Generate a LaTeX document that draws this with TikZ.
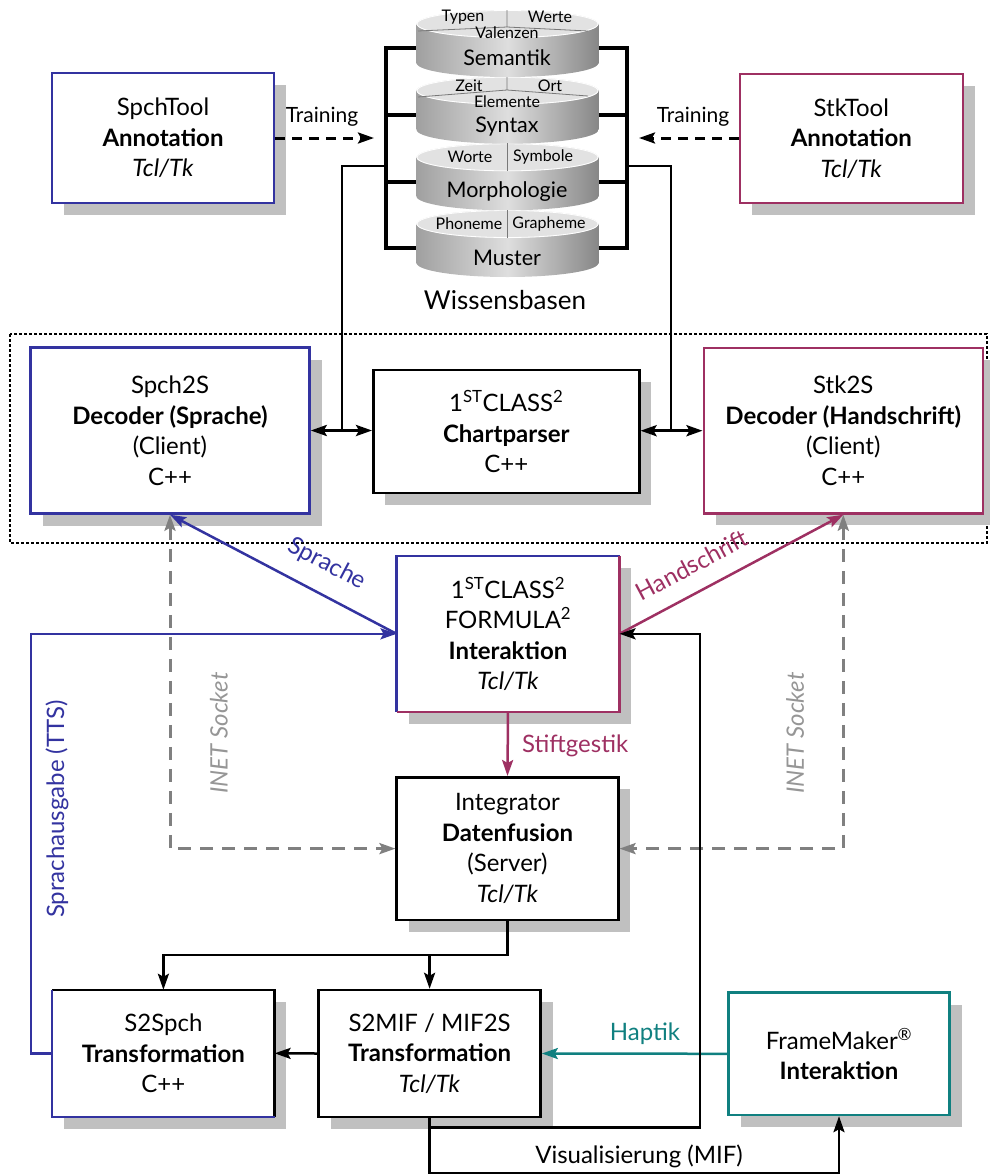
\documentclass[tikz,border=0pt]{standalone}
\usepackage{fontspec}
\setmainfont{Lato}
\usetikzlibrary{arrows.meta,shadows}
\definecolor{spchblue}{RGB}{51,51,160}
\definecolor{stkred}{RGB}{158,48,98}
\definecolor{fmteal}{RGB}{16,128,128}
\definecolor{shadowgray}{RGB}{192,192,192}
\definecolor{inetgray}{RGB}{128,128,128}
\definecolor{inettext}{RGB}{150,150,150}
\definecolor{facegray}{RGB}{226,226,226}
\definecolor{sidedark}{RGB}{160,160,160}
\definecolor{sidelight}{RGB}{222,222,222}
\definecolor{sidedarkr}{RGB}{135,135,135}
\definecolor{divgray}{RGB}{120,120,120}

% one disk of the knowledge-base stack; #1 = y of the top face centre
\newcommand{\kbdisk}[1]{%
  \shade[left color=sidedark, right color=sidedarkr, middle color=sidelight]
    (416.5,#1) rectangle (598.5,#1+39);
  \shade[left color=sidedark, right color=sidedarkr, middle color=sidelight]
    (507.5,#1+39) ellipse[x radius=91, y radius=14];
  \fill[facegray] (507.5,#1) ellipse[x radius=91, y radius=14];
  \draw[white, line width=0.8pt] (507.5,#1) ellipse[x radius=90.5, y radius=13.5];
}

\begin{document}
\begin{tikzpicture}[x=1pt,y=-1pt,
  >={Stealth[length=16pt,width=11pt,inset=3pt]},
  box/.style={draw, line width=2.5pt, fill=white, inner sep=0pt, align=center,
    font=\fontsize{24}{30.5}\selectfont,
    drop shadow={shadow xshift=12pt, shadow yshift=-12pt, opacity=1,
                 fill=shadowgray, draw=none}},
  plainbox/.style={fill=white, inner sep=0pt, align=center,
    font=\fontsize{24}{30.5}\selectfont,
    drop shadow={shadow xshift=12pt, shadow yshift=-12pt, opacity=1,
                 fill=shadowgray, draw=none}},
  wire/.style={line width=2.5pt},
  bar/.style={line width=3.5pt},
  lbl/.style={font=\fontsize{24}{28}\selectfont, inner sep=0pt},
  facelbl/.style={font=\fontsize{16}{19}\selectfont, inner sep=0pt},
  disklbl/.style={font=\fontsize{21.5}{24}\selectfont, inner sep=0pt},
  training/.style={line width=3pt, dash pattern=on 10pt off 7pt},
  inet/.style={line width=3pt, inetgray, dash pattern=on 13pt off 9pt},
  inetlbl/.style={font=\fontsize{24}{28}\selectfont\itshape, inettext, inner sep=0pt, rotate=90},
  group/.style={line width=2.5pt, dash pattern=on 3pt off 2pt}
]
\useasboundingbox (0,0) rectangle (989,1176);

% client group frame
\draw[group] (10,334) rectangle (987,543);

% ---------- knowledge bases ----------
\draw[bar] (417,48) -- (386,48) -- (386,248) -- (417,248);
\draw[bar] (386,115) -- (417,115);
\draw[bar] (386,182) -- (417,182);
\draw[bar] (598,48) -- (627,48) -- (627,248) -- (598,248);
\draw[bar] (627,115) -- (598,115);
\draw[bar] (627,182) -- (598,182);

\kbdisk{224}
\kbdisk{157.3}
\kbdisk{90.7}
\kbdisk{24}

% face dividers
\draw[divgray, line width=0.8pt] (507,10) -- (507,27) (418,31) -- (507,27) -- (588,31);
\draw[divgray, line width=0.8pt] (507,77) -- (507,90) (418,97) -- (507,90) -- (588,96);
\draw[divgray, line width=0.8pt] (507,143.3) -- (507,171.3);
\draw[divgray, line width=0.8pt] (507,210) -- (507,238);

\node[facelbl] (typen) at (463,17) {Typen};
\node[facelbl] (werte) at (550,17) {Werte};
\node[facelbl] (valenzen) at (507,33) {Valenzen};
\node[disklbl] (semantik) at (507,58) {Semantik};
\node[facelbl] (zeit) at (469,86) {Zeit};
\node[facelbl] (ort) at (550,86) {Ort};
\node[facelbl] (elemente) at (507,102) {Elemente};
\node[disklbl] (syntax) at (507,127) {Syntax};
\node[facelbl] (worte) at (470,157) {Worte};
\node[facelbl] (symbole) at (543,157) {Symbole};
\node[disklbl] (morph) at (507,192) {Morphologie};
\node[facelbl] (phoneme) at (469,224) {Phoneme};
\node[facelbl] (grapheme) at (549,224) {Grapheme};
\node[disklbl] (muster) at (507,258) {Muster};
\node[font=\fontsize{26}{30}\selectfont, inner sep=0pt] (wissen) at (505,300) {Wissensbasen};

% ---------- annotation tools ----------
\node[box, draw=spchblue, minimum width=222pt, minimum height=130pt] (spchtool) at (163,138)
  {SpchTool\\\textbf{Annotation}\\\textit{Tcl/Tk}};
\node[box, draw=stkred, minimum width=223pt, minimum height=129pt] (stktool) at (851.3,138.5)
  {StkTool\\\textbf{Annotation}\\\textit{Tcl/Tk}};

\coordinate (trainL) at (374,138);
\coordinate (trainR) at (639,138);
\draw[training, ->] (spchtool.east |- trainL) -- (trainL);
\draw[training, ->] (stktool.west |- trainR) -- (trainR);
\node[font=\fontsize{21}{24}\selectfont, inner sep=0pt] (trainlblL) at (322,117) {Training};
\node[font=\fontsize{21}{24}\selectfont, inner sep=0pt] (trainlblR) at (693,117) {Training};

% ---------- decoders and chart parser ----------
\node[box, draw=spchblue, minimum width=279pt, minimum height=166pt] (spch2s) at (170,430.5)
  {Spch2S\\\textbf{Decoder (Sprache)}\\(Client)\\C++};
\node[box, minimum width=266pt, minimum height=123pt] (chart) at (506.3,431.5)
  {1\textsuperscript{ST}CLASS\textsuperscript{2}\\\textbf{Chartparser}\\C++};
\node[box, draw=stkred, minimum width=279pt, minimum height=165.5pt] (stk2s) at (843.3,430.7)
  {Stk2S\\\textbf{Decoder (Handschrift)}\\(Client)\\C++};

\coordinate (jl) at (342,430.5);
\coordinate (jr) at (671,430.5);
\draw[line width=2pt] (386,166) -| (jl);
\draw[line width=2pt] (627,166) -| (jr);
\draw[line width=3pt, <->] (spch2s.east) -- (chart.west |- spch2s.east);
\draw[line width=3pt, <->] (chart.east |- stk2s.west) -- (stk2s.west);

% ---------- interaction ----------
\node[plainbox, minimum width=222.6pt, minimum height=155.7pt] (interakt) at (508,633.8)
  {1\textsuperscript{ST}CLASS\textsuperscript{2}\\FORMULA\textsuperscript{2}\\\textbf{Interaktion}\\\textit{Tcl/Tk}};
\draw[line width=2.5pt, spchblue] (interakt.south west) -- (interakt.north west) -- (interakt.north east);
\draw[line width=2.5pt, stkred] (interakt.north east) -- (interakt.south east) -- (interakt.south west);

\node[box, minimum width=221.6pt, minimum height=142.7pt] (integ) at (507.5,848.6)
  {Integrator\\\textbf{Datenfusion}\\(Server)\\\textit{Tcl/Tk}};

\draw[line width=2.5pt, spchblue, ->] (interakt.west) -- (spch2s.south);
\node[lbl, spchblue, rotate=-27.9] (sprlbl) at (327,564) {Sprache};
\draw[line width=2.5pt, stkred, ->] (interakt.east) -- (stk2s.south);
\node[lbl, stkred, rotate=28] (hslbl) at (692,565) {Handschrift};

\draw[line width=2.5pt, stkred, ->] (interakt.south) -- (integ.north);
\node[lbl, stkred, anchor=west] (stiftlbl) at (522,746) {Stiftgestik};

% socket links
\coordinate (inetL) at (170,848.6);
\coordinate (inetR) at (843.3,848.6);
\draw[inet, <->] (spch2s.south) -- (inetL) -- (integ.west);
\draw[inet, <->] (stk2s.south) -- (inetR) -- (integ.east);
\node[inetlbl] (inetlblL) at (219,733) {INET Socket};
\node[inetlbl] (inetlblR) at (795,733) {INET Socket};

% ---------- transformations ----------
\node[plainbox, minimum width=222pt, minimum height=126.7pt] (s2spch) at (163.4,1053.3)
  {S2Spch\\\textbf{Transformation}\\C++};
\draw[line width=2.5pt] (s2spch.south east) -- (s2spch.north east) -- (s2spch.north west);
\draw[line width=2.5pt, spchblue] (s2spch.north west) -- (s2spch.south west) -- (s2spch.south east);

\node[box, minimum width=222pt, minimum height=127pt] (s2mif) at (429.6,1053.5)
  {S2MIF / MIF2S\\\textbf{Transformation}\\\textit{Tcl/Tk}};
\node[box, draw=fmteal, minimum width=221pt, minimum height=122.3pt] (fm) at (839,1053.8)
  {FrameMaker\textsuperscript{®}\\\textbf{Interaktion}};

\coordinate (ttsx) at (31,633.8);
\draw[line width=2.5pt, spchblue, ->] (s2spch.west) -| (ttsx) -- (interakt.west);
\node[lbl, spchblue, rotate=90] (ttslbl) at (57,809) {Sprachausgabe (TTS)};

\coordinate (split) at (507.5,955);
\draw[wire, ->] (integ.south) -- (split) -| (s2spch.north);
\draw[wire, ->] (split) -| (s2mif.north);
\draw[wire, ->] (s2mif.west) -- (s2spch.east);

\draw[wire, fmteal, ->] (fm.west) -- (s2mif.east);
\node[lbl, fmteal] (haptlbl) at (645,1034) {Haptik};

\coordinate (loopA) at (429.6,1127.5);
\coordinate (loopB) at (700,633.8);
\draw[wire, ->] (s2mif.south) -- (loopA) -| (loopB) -- (interakt.east);
\coordinate (visA) at (429.6,1173);
\draw[wire, ->] (s2mif.south) -- (visA) -| (fm.south);
\node[lbl] (vislbl) at (639,1156) {Visualisierung (MIF)};
\end{tikzpicture}
\end{document}
